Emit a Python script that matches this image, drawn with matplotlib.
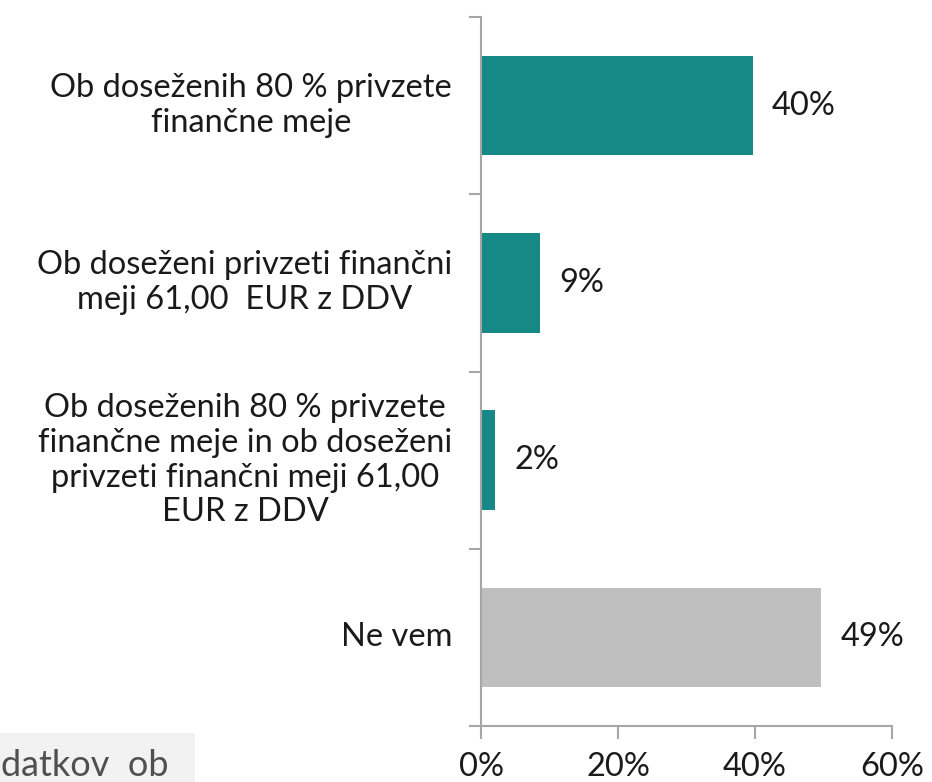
import matplotlib
matplotlib.use("Agg")
import matplotlib.pyplot as plt
from matplotlib.patches import Rectangle

categories = [
    "Ob doseženih 80 % privzete\nfinančne meje",
    "Ob doseženi privzeti finančni\nmeji 61,00  EUR z DDV",
    "Ob doseženih 80 % privzete\nfinančne meje in ob doseženi\nprivzeti finančni meji 61,00\nEUR z DDV",
    "Ne vem",
]
values = [39.7, 8.6, 2.1, 49.7]
value_labels = ["40%", "9%", "2%", "49%"]
colors = ["#168886", "#168886", "#168886", "#BFBFBF"]
xticks = [0, 20, 40, 60]
xtick_labels = ["0%", "20%", "40%", "60%"]

plt.rcParams['font.family'] = ['Lato', 'DejaVu Sans']

FS = 23.5
TXT = '#1a1a1a'

fig = plt.figure(figsize=(9.32, 7.82), dpi=100)
ax = fig.add_axes([481/932, 1-726/782, (892-481)/932, (726-17)/782])

ypos = list(range(len(categories)))
ax.barh(ypos, values, height=0.56, color=colors)
ax.set_ylim(len(categories)-0.5, -0.5)
ax.set_xlim(0, 60)

for y, v, lab in zip(ypos, values, value_labels):
    ax.text(v + 2.8, y, lab, va='center', ha='left', fontsize=FS, color=TXT)

ax.set_xticks(xticks)
ax.set_xticklabels(xtick_labels, fontsize=FS, color=TXT)
ax.set_yticks([-0.5, 0.5, 1.5, 2.5, 3.5])
ax.set_yticklabels([])
ax.tick_params(axis='y', length=9, width=1.5, color='#a6a6a6')
ax.tick_params(axis='x', length=9, width=1.5, color='#a6a6a6', pad=10)

for y, cat in zip(ypos, categories):
    ax.text(-4.2, y, cat, va='center', ha='right', fontsize=FS, color=TXT,
            linespacing=1.2, multialignment='center')

for s in ['top', 'right']:
    ax.spines[s].set_visible(False)
for s in ['left', 'bottom']:
    ax.spines[s].set_color('#a6a6a6')
    ax.spines[s].set_linewidth(1.5)

fig.add_artist(Rectangle((0, 0), 195/932, 49/782, transform=fig.transFigure,
                         facecolor='#f2f2f2', edgecolor='none', zorder=0))
fig.text(1/932, 1-765/782, "datkov  ob", fontsize=26, color='#505050', va='center', ha='left')

fig.savefig("out.png", dpi=100)
